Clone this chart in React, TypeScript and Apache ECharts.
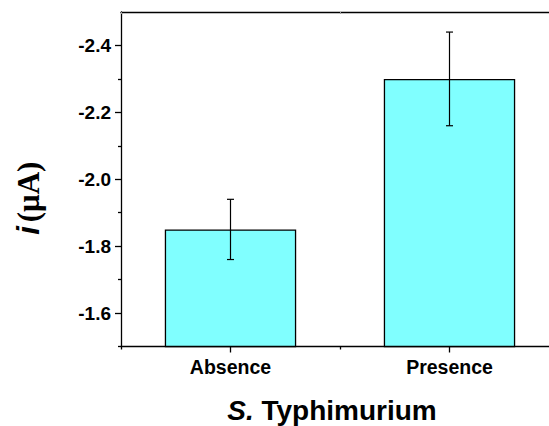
import React, { useEffect, useRef } from "react";
import * as echarts from "echarts";

const categories = ["Absence", "Presence"];
const currentValues = [-1.85, -2.3];
const errorValues = [0.09, 0.14];
const majorTicks = [-2.4, -2.2, -2.0, -1.8, -1.6];
const minorTicks = [-2.3, -2.1, -1.9, -1.7, -1.5];

const SANS = "'Liberation Sans', Arial, sans-serif";
const SERIF = "'Liberation Serif', 'Times New Roman', serif";

export default function App() {
  const ref = useRef<HTMLDivElement>(null);
  useEffect(() => {
    if (!ref.current) return;
    const chart = echarts.init(ref.current, null, { renderer: "svg" });
    const errData = currentValues.map((v, i) => [i, v - errorValues[i], v + errorValues[i]]);
    const yCommon = {
      type: "value",
      inverse: true,
      min: -2.5,
      max: -1.5,
      splitLine: { show: false },
      position: "left",
      offset: 0,
    };
    chart.setOption({
      animation: false,
      grid: { left: 121, top: 12, width: 438, height: 334.5, containLabel: false, outerBoundsMode: "none" },
      xAxis: [
        {
          type: "category",
          data: categories,
          position: "bottom",
          axisLine: { show: true, lineStyle: { color: "#000", width: 1.3 } },
          axisTick: { show: true, alignWithLabel: true, length: 6, lineStyle: { color: "#000", width: 1.3 } },
          axisLabel: { color: "#000", fontFamily: SANS, fontWeight: "bold", fontSize: 19.5, margin: 10 },
          name: "{s|S.}{t| Typhimurium}",
          nameLocation: "middle",
          nameGap: 50,
          nameTextStyle: {
            padding: [0, 16, 0, 0],
            rich: {
              s: { fontFamily: SANS, fontWeight: "bold", fontStyle: "italic", fontSize: 28, color: "#000" },
              t: { fontFamily: SANS, fontWeight: "bold", fontSize: 28, color: "#000" },
            },
          },
        },
        {
          type: "category",
          data: categories,
          position: "bottom",
          axisLine: { show: false },
          axisTick: { show: true, alignWithLabel: false, length: 3, lineStyle: { color: "#000", width: 1.3 } },
          axisLabel: { show: false },
        },
        {
          type: "category",
          data: categories,
          position: "top",
          axisLine: { show: true, lineStyle: { color: "#000", width: 1.3 } },
          axisTick: { show: true, inside: true, alignWithLabel: false, length: 2, interval: 0, lineStyle: { color: "#999", width: 1 } },
          axisLabel: { show: false },
        },
      ],
      yAxis: [
        {
          ...yCommon,
          axisLine: { show: true, lineStyle: { color: "#000", width: 1.3 } },
          axisTick: { show: true, length: 6, customValues: majorTicks, lineStyle: { color: "#000", width: 1.3 } },
          axisLabel: {
            customValues: majorTicks,
            color: "#000",
            fontFamily: SANS,
            fontWeight: "bold",
            fontSize: 19,
            margin: 10,
            formatter: (v: number) => v.toFixed(1),
          },
          name: "{i|i}{u|(μA)}",
          nameLocation: "middle",
          nameGap: 77,
          nameTextStyle: {
            padding: [0, 38, 0, 0],
            rich: {
              i: { fontFamily: SANS, fontWeight: "bold", fontStyle: "italic", fontSize: 31, color: "#000", padding: [0, 4, 0, 0] },
              u: { fontFamily: SERIF, fontWeight: "bold", fontSize: 31, color: "#000" },
            },
          },
        },
        {
          ...yCommon,
          axisLine: { show: false },
          axisTick: { show: true, length: 3, customValues: minorTicks, lineStyle: { color: "#000", width: 1.3 } },
          axisLabel: { show: false },
        },
      ],
      series: [
        {
          type: "bar",
          xAxisIndex: 0,
          yAxisIndex: 0,
          data: currentValues,
          barWidth: "60%",
          itemStyle: { color: "#80FFFF", borderColor: "#000", borderWidth: 1.3 },
        },
        {
          type: "custom",
          xAxisIndex: 0,
          yAxisIndex: 0,
          data: errData,
          z: 5,
          renderItem: (params: any, api: any) => {
            const x = api.value(0);
            const lo = api.coord([x, api.value(1)]);
            const hi = api.coord([x, api.value(2)]);
            const cap = 3.5;
            const style = { stroke: "#000", lineWidth: 1.2 };
            return {
              type: "group",
              children: [
                { type: "line", shape: { x1: lo[0], y1: lo[1], x2: hi[0], y2: hi[1] }, style },
                { type: "line", shape: { x1: lo[0] - cap, y1: lo[1], x2: lo[0] + cap, y2: lo[1] }, style },
                { type: "line", shape: { x1: hi[0] - cap, y1: hi[1], x2: hi[0] + cap, y2: hi[1] }, style },
              ],
            };
          },
        },
      ],
    });
    return () => chart.dispose();
  }, []);
  return (
    <div
      style={{ position: "fixed", left: 0, top: 0, width: 549, height: 426, overflow: "hidden", background: "#fff" }}
    >
      <div ref={ref} style={{ width: 580, height: 426 }} />
    </div>
  );
}
